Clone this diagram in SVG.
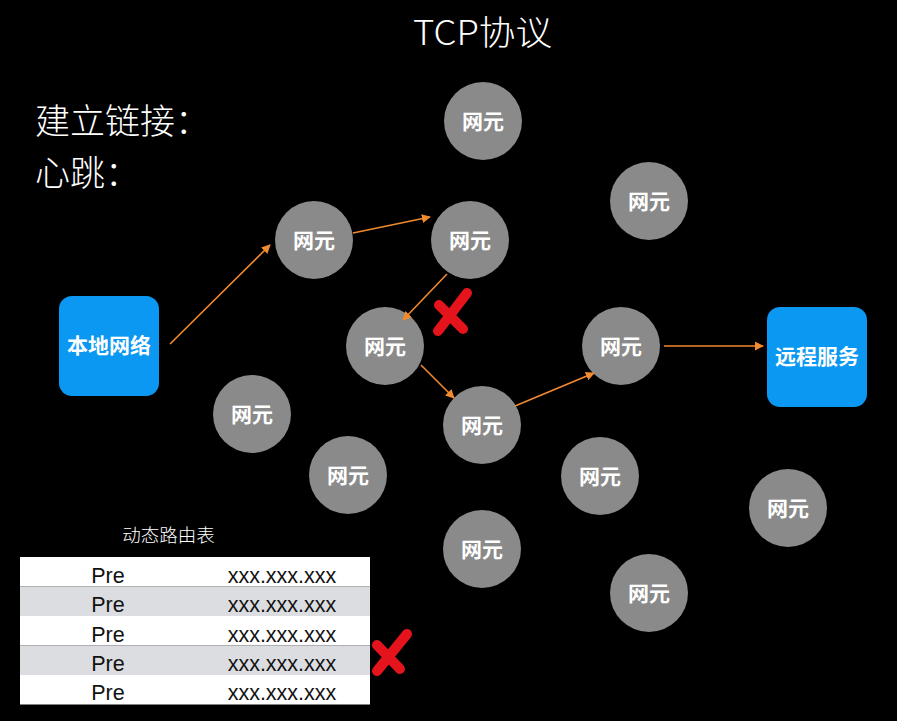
<svg xmlns="http://www.w3.org/2000/svg" width="897" height="721" viewBox="0 0 897 721">
  <defs>
    <marker id="arrow" viewBox="0 0 10 10" refX="9" refY="5" markerWidth="9" markerHeight="9" markerUnits="userSpaceOnUse" orient="auto">
      <path d="M0,0 L10,5 L0,10 z" fill="#F28A2E"/>
    </marker>
    <style>
      .ne circle { fill: #8A8A8A; }
      .ne text, .box text { fill: #fff; font-family: "Noto Sans CJK SC", "Noto Sans", sans-serif; font-weight: bold; font-size: 21px; text-anchor: middle; }
      .box rect { fill: #0A98F2; }
      .link { stroke: #F28A2E; stroke-width: 1.6; fill: none; marker-end: url(#arrow); }
      .cross { stroke: #E5141C; stroke-width: 10; stroke-linecap: round; fill: none; }
      .head { fill: #fff; font-family: "Noto Sans CJK SC", sans-serif; font-weight: 300; }
      .cell { fill: #111; font-family: "Liberation Sans", Arial, sans-serif; font-size: 21.5px; text-anchor: middle; }
    </style>
  </defs>
  <rect width="897" height="721" fill="#000"/>

  <!-- headings -->
  <text class="head" x="413" y="45" font-size="34" textLength="139" lengthAdjust="spacingAndGlyphs">TCP协议</text>
  <text class="head" x="35" y="134" font-size="35">建立链接：</text>
  <text class="head" x="35" y="186" font-size="35">心跳：</text>

  <!-- endpoints -->
  <g id="local" class="box">
    <rect x="59" y="296" width="100" height="100" rx="13"/>
    <text x="109" y="353">本地网络</text>
  </g>
  <g id="remote" class="box">
    <rect x="767" y="307" width="100" height="100" rx="13"/>
    <text x="817" y="364">远程服务</text>
  </g>

  <!-- network elements -->
  <g id="ne1" class="ne"><circle cx="483" cy="121" r="39"/><text x="483" y="129">网元</text></g>
  <g id="ne2" class="ne"><circle cx="649" cy="201" r="39"/><text x="649" y="209">网元</text></g>
  <g id="ne3" class="ne"><circle cx="314" cy="240" r="39"/><text x="314" y="248">网元</text></g>
  <g id="ne4" class="ne"><circle cx="470" cy="240" r="39"/><text x="470" y="248">网元</text></g>
  <g id="ne5" class="ne"><circle cx="385" cy="346" r="39"/><text x="385" y="354">网元</text></g>
  <g id="ne6" class="ne"><circle cx="621" cy="346" r="39"/><text x="621" y="354">网元</text></g>
  <g id="ne7" class="ne"><circle cx="482" cy="425" r="39"/><text x="482" y="433">网元</text></g>
  <g id="ne8" class="ne"><circle cx="252" cy="414" r="39"/><text x="252" y="422">网元</text></g>
  <g id="ne9" class="ne"><circle cx="348" cy="475" r="39"/><text x="348" y="483">网元</text></g>
  <g id="ne10" class="ne"><circle cx="600" cy="476" r="39"/><text x="600" y="484">网元</text></g>
  <g id="ne11" class="ne"><circle cx="788" cy="508" r="39"/><text x="788" y="516">网元</text></g>
  <g id="ne12" class="ne"><circle cx="482" cy="549" r="39"/><text x="482" y="557">网元</text></g>
  <g id="ne13" class="ne"><circle cx="649" cy="593" r="39"/><text x="649" y="601">网元</text></g>

  <!-- connectors -->
  <g id="connectors">
    <line class="link" x1="170" y1="344" x2="270" y2="245"/>
    <line class="link" x1="353" y1="233" x2="430" y2="217"/>
    <line class="link" x1="447" y1="274" x2="403" y2="320"/>
    <line class="link" x1="421" y1="365" x2="454" y2="398"/>
    <line class="link" x1="515" y1="406" x2="594" y2="373"/>
    <line class="link" x1="664" y1="346" x2="763" y2="346"/>
  </g>

  <!-- failure marks -->
  <g id="cross1">
    <path class="cross" d="M467,293 L438,331"/>
    <path class="cross" d="M439,305 L463,329"/>
  </g>

  <!-- routing table -->
  <g id="route-table">
    <text class="head" x="168.5" y="542" font-size="18.5" text-anchor="middle">动态路由表</text>
    <rect x="20" y="557" width="350" height="29.5" fill="#fff"/>
    <rect x="20" y="586.5" width="350" height="29.5" fill="#DCDDE0"/>
    <rect x="20" y="616" width="350" height="29.5" fill="#fff"/>
    <rect x="20" y="645.5" width="350" height="29.5" fill="#DCDDE0"/>
    <rect x="20" y="675" width="350" height="29.5" fill="#fff"/>
    <text class="cell" x="108" y="583">Pre</text><text class="cell" x="282" y="583">xxx.xxx.xxx</text>
    <text class="cell" x="108" y="612">Pre</text><text class="cell" x="282" y="612">xxx.xxx.xxx</text>
    <text class="cell" x="108" y="642">Pre</text><text class="cell" x="282" y="642">xxx.xxx.xxx</text>
    <text class="cell" x="108" y="671">Pre</text><text class="cell" x="282" y="671">xxx.xxx.xxx</text>
    <text class="cell" x="108" y="700">Pre</text><text class="cell" x="282" y="700">xxx.xxx.xxx</text>
  </g>
  <g id="cross2">
    <path class="cross" d="M407,634 L377,671"/>
    <path class="cross" d="M377,645 L400,669"/>
  </g>
</svg>
